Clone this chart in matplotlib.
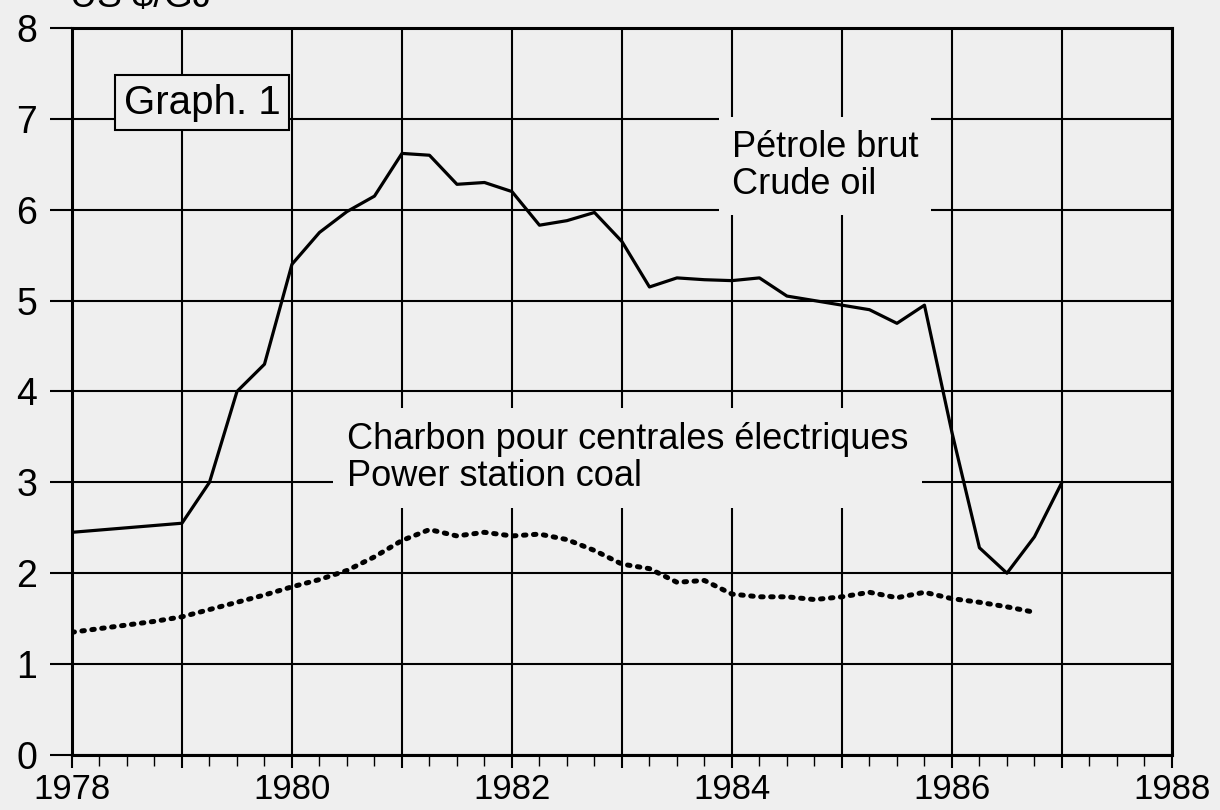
import matplotlib.pyplot as plt
from matplotlib.ticker import MultipleLocator

# prix en US $/GJ
years_crude = [1978, 1979, 1979.25, 1979.5, 1979.75, 1980, 1980.25, 1980.5, 1980.75,
               1981, 1981.25, 1981.5, 1981.75, 1982, 1982.25, 1982.5, 1982.75,
               1983, 1983.25, 1983.5, 1983.75, 1984, 1984.25, 1984.5, 1984.75,
               1985, 1985.25, 1985.5, 1985.75, 1986, 1986.25, 1986.5, 1986.75, 1987]
crude_oil = [2.45, 2.55, 3.0, 4.0, 4.3, 5.4, 5.75, 5.98, 6.15,
             6.62, 6.6, 6.28, 6.3, 6.2, 5.83, 5.88, 5.97,
             5.65, 5.15, 5.25, 5.23, 5.22, 5.25, 5.05, 5.0,
             4.95, 4.9, 4.75, 4.95, 3.55, 2.28, 2.0, 2.4, 3.0]

years_coal = [1978, 1978.25, 1978.5, 1978.75, 1979, 1979.25, 1979.5, 1979.75,
              1980, 1980.25, 1980.5, 1980.75, 1981, 1981.25, 1981.5, 1981.75,
              1982, 1982.25, 1982.5, 1982.75, 1983, 1983.25, 1983.5, 1983.75,
              1984, 1984.25, 1984.5, 1984.75, 1985, 1985.25, 1985.5, 1985.75,
              1986, 1986.25, 1986.5, 1986.75]
coal = [1.35, 1.39, 1.43, 1.47, 1.52, 1.6, 1.68, 1.76,
        1.85, 1.93, 2.03, 2.18, 2.36, 2.48, 2.41, 2.45,
        2.41, 2.43, 2.37, 2.25, 2.1, 2.05, 1.9, 1.92,
        1.77, 1.74, 1.74, 1.71, 1.74, 1.79, 1.73, 1.79,
        1.72, 1.68, 1.63, 1.57]

year_ticks = list(range(1978, 1989))
year_labels = ['1978', '', '1980', '', '1982', '', '1984', '', '1986', '', '1988']
value_ticks = list(range(0, 9))

bg = '#efefef'
sans = ['Liberation Sans', 'DejaVu Sans']

fig = plt.figure(figsize=(12.2, 8.1), dpi=100, facecolor=bg)
ax = fig.add_axes([0.059, 0.068, 0.9016, 0.8974], facecolor=bg)

ax.plot(years_crude, crude_oil, color='black', lw=2.3, zorder=5)
ax.plot(years_coal, coal, color='black', lw=3.6, linestyle=(0, (0.5, 1.5)),
        dash_capstyle='round', zorder=5)

ax.set_xlim(1978, 1988)
ax.set_ylim(0, 8)
ax.set_xticks(year_ticks)
ax.set_xticklabels(year_labels, family=sans, fontsize=25)
ax.set_yticks(value_ticks)
ax.set_yticklabels([str(v) for v in value_ticks], family=sans, fontsize=27)
ax.xaxis.set_minor_locator(MultipleLocator(0.25))

ax.grid(True, which='major', color='black', lw=1.5, zorder=1)
ax.set_axisbelow(True)
for s in ax.spines.values():
    s.set_linewidth(2.2)

ax.tick_params(axis='y', direction='out', length=16, width=1.5, pad=9)
ax.tick_params(axis='x', which='major', direction='out', length=9, width=1.5, pad=4)
ax.tick_params(axis='x', which='minor', direction='out', length=8, width=1.0)

ax.text(0.6, 0.81, 'Pétrole brut\nCrude oil', transform=ax.transAxes,
        family=sans, fontsize=26, va='center', ha='left', linespacing=1.1,
        bbox=dict(facecolor=bg, edgecolor='none', pad=9), zorder=3)
ax.text(0.25, 0.4085, 'Charbon pour centrales électriques\nPower station coal',
        transform=ax.transAxes, family=sans, fontsize=26, va='center', ha='left',
        linespacing=1.1, bbox=dict(facecolor=bg, edgecolor='none', pad=10), zorder=3)

ax.text(0.047, 0.897, 'Graph. 1', transform=ax.transAxes, family=sans,
        fontsize=29, va='center', ha='left',
        bbox=dict(facecolor=bg, edgecolor='black', lw=1.5, pad=6), zorder=6)

fig.text(0.057, 0.991, 'US $/GJ', family=sans, fontsize=27, va='baseline', ha='left')

fig.savefig('out.png', dpi=100, facecolor=bg)
